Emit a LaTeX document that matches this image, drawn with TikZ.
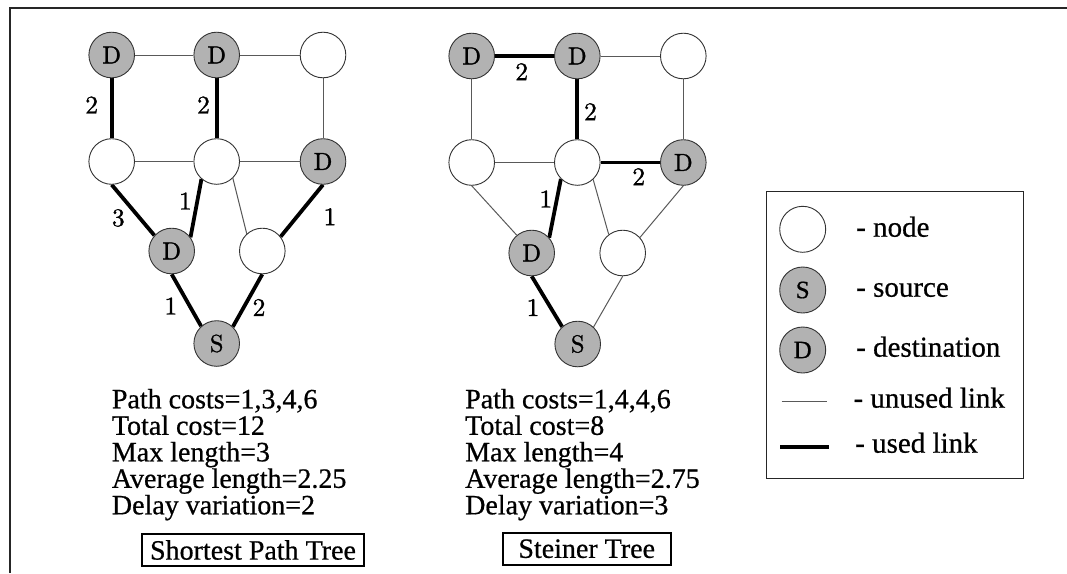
\documentclass[tikz,border=0pt]{standalone}
\usepackage{fontspec}
\usetikzlibrary{backgrounds}
\newfontfamily\txtfont{Liberation Serif}[FakeBold=0.6]
\newfontfamily\numfont{lmroman10-regular}[Extension=.otf, FakeBold=1.2]
\begin{document}
\begin{tikzpicture}[x=1pt,y=-1pt,
  netnode/.style={circle, draw=black!80, fill=white, line width=0.9pt,
    minimum size=45.6pt, inner sep=0pt, font=\numfont\fontsize{24.5}{24.5}\selectfont},
  dest/.style={netnode, fill=black!30},
  thinlink/.style={draw=black!65, line width=1pt},
  thicklink/.style={draw=black, line width=3.8pt},
  cost/.style={inner sep=0pt, font=\numfont\fontsize{25.5}{25.5}\selectfont},
  txt/.style={anchor=base west, inner sep=0pt, font=\txtfont\fontsize{28}{28}\selectfont},
  caption/.style={draw=black, line width=2pt, inner sep=0pt, minimum height=32pt,
    font=\txtfont\fontsize{28}{28}\selectfont},
  legnode/.style={netnode, minimum size=46pt, font=\txtfont\fontsize{25}{25}\selectfont},
  legtxt/.style={anchor=base west, inner sep=0pt, font=\txtfont\fontsize{29}{29}\selectfont}
]
\useasboundingbox (0,0) rectangle (1067,573);

% outer frame
\coordinate (fbl) at (10,573);
\coordinate (ftl) at (10,8);
\coordinate (ftr) at (1067,8);
\draw[line width=2pt, black!85] (fbl) -- (ftl) -- (ftr);

% ---------- shortest path tree ----------
\node[dest]    (a1) at (111.7,55)    {D};
\node[dest]    (a2) at (216.7,55)    {D};
\node[netnode] (a3) at (323,55)      {};
\node[netnode] (a4) at (111.7,161.5) {};
\node[netnode] (a5) at (216.7,161.5) {};
\node[dest]    (a6) at (323,161.5)   {D};
\node[dest]    (a7) at (171.7,251)   {D};
\node[netnode] (a8) at (262.3,251)   {};
\node[dest]    (a9) at (216.7,343.5) {S};

% ---------- steiner tree ----------
\node[dest]    (b1) at (471.7,56)    {D};
\node[dest]    (b2) at (577.3,56)    {D};
\node[netnode] (b3) at (683.3,56)    {};
\node[netnode] (b4) at (471.7,162.5) {};
\node[netnode] (b5) at (577.3,162.5) {};
\node[dest]    (b6) at (683.3,162.5) {D};
\node[dest]    (b7) at (531.7,253)   {D};
\node[netnode] (b8) at (622.7,253)   {};
\node[dest]    (b9) at (577.7,344)   {S};

\begin{pgfonlayer}{background}
  % links of the shortest path tree
  \draw[thinlink] (a1) -- (a2);
  \draw[thinlink] (a2) -- (a3);
  \draw[thinlink] (a3) -- (a6);
  \draw[thinlink] (a4) -- (a5);
  \draw[thinlink] (a5) -- (a6);
  \draw[thinlink] (a5.-46) -- (a8.132);
  \draw[thicklink] (a1) -- (a4);
  \draw[thicklink] (a2) -- (a5);
  \draw[thicklink] (a4.south) -- (a7.138);
  \draw[thicklink] (a5.-131) -- (a7.36);
  \draw[thicklink] (a6.south) -- (a8.38);
  \draw[thicklink] (a7.south) -- (a9.132);
  \draw[thicklink] (a8.south) -- (a9.46);
  % links of the steiner tree
  \draw[thinlink] (b2) -- (b3);
  \draw[thinlink] (b3) -- (b6);
  \draw[thinlink] (b1) -- (b4);
  \draw[thinlink] (b4) -- (b5);
  \draw[thinlink] (b4.south) -- (b7.130);
  \draw[thinlink] (b5.-47) -- (b8.127);
  \draw[thinlink] (b6.south) -- (b8.42);
  \draw[thinlink] (b8.south) -- (b9.47);
  \draw[thicklink] (b1) -- (b2);
  \draw[thicklink] (b2) -- (b5);
  \draw[thicklink] (b5) -- (b6);
  \draw[thicklink] (b5.-135) -- (b7.41);
  \draw[thicklink] (b7.south) -- (b9.132);
\end{pgfonlayer}

% link costs
\node[cost] (ca14) at (91.7,105)  {2};
\node[cost] (ca25) at (203.5,105) {2};
\node[cost] (ca47) at (118.3,218) {3};
\node[cost] (ca57) at (185.3,201) {1};
\node[cost] (ca68) at (330,216.7) {1};
\node[cost] (ca79) at (170.8,306) {1};
\node[cost] (ca89) at (259,307.5) {2};
\node[cost] (cb12) at (521.7,71.7) {2};
\node[cost] (cb25) at (590.5,111.7) {2};
\node[cost] (cb56) at (638.7,176.7) {2};
\node[cost] (cb57) at (545.8,199)  {1};
\node[cost] (cb79) at (533,307.5)  {1};

% figures of merit
\node[txt] (la1) at (111.7,408.3) {Path costs=1,3,4,6};
\node[txt] (la2) at (111.7,434.8) {Total cost=12};
\node[txt] (la3) at (111.7,461.3) {Max length=3};
\node[txt] (la4) at (111.7,487.8) {Average length=2.25};
\node[txt] (la5) at (111.7,514.3) {Delay variation=2};
\node[txt] (lb1) at (465,408.3) {Path costs=1,4,4,6};
\node[txt] (lb2) at (465,434.8) {Total cost=8};
\node[txt] (lb3) at (465,461.3) {Max length=4};
\node[txt] (lb4) at (465,487.8) {Average length=2.75};
\node[txt] (lb5) at (465,514.3) {Delay variation=3};

\node[caption, minimum width=222pt] (capa) at (253,550)   {Shortest Path Tree};
\node[caption, minimum width=168pt] (capb) at (586.7,548.7) {Steiner Tree};

% legend
\node[draw=black!85, line width=1.3pt, minimum width=256.6pt, minimum height=286.6pt,
  inner sep=0pt] (legend) at (895,335) {};
\node[legnode] (kn) at (802.7,229.3) {};
\node[legnode, fill=black!30] (ks) at (802.7,290) {S};
\node[legnode, fill=black!30] (kd) at (802.7,350) {D};
\coordinate (ku1) at (781.7,401.7);
\coordinate (ku2) at (827.3,401.7);
\coordinate (kt1) at (780,446.7);
\coordinate (kt2) at (829.3,446.7);
\draw[thinlink] (ku1) -- (ku2);
\draw[thicklink] (kt1) -- (kt2);
\node[legtxt] (tn) at (856,236.7) {- node};
\node[legtxt] (ts) at (856,296.7) {- source};
\node[legtxt] (td) at (856,356.7) {- destination};
\node[legtxt] (tu) at (853.3,407.7) {- unused link};
\node[legtxt] (tt) at (855,452.7) {- used link};
\end{tikzpicture}
\end{document}
